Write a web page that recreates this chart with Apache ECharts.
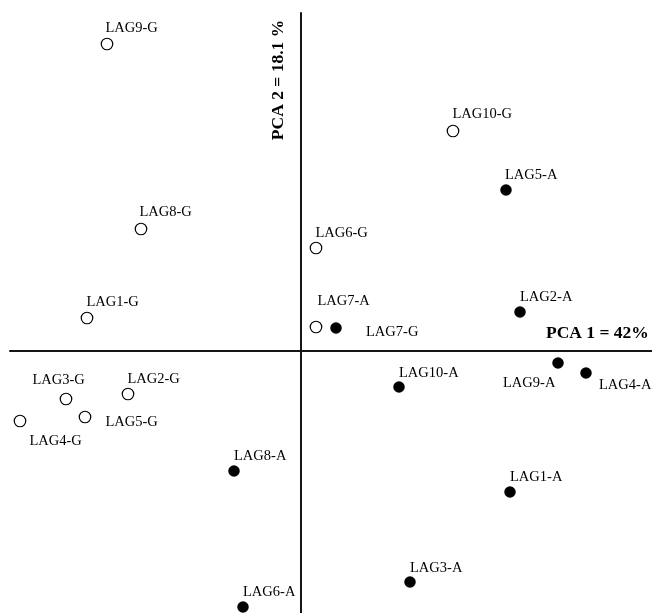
<!DOCTYPE html>
<html>
<head>
<meta charset="utf-8">
<script src="https://cdn.jsdelivr.net/npm/echarts@6/dist/echarts.min.js"></script>
<style>html,body{margin:0;padding:0;background:#fff}#c{width:652px;height:613px}</style>
</head>
<body>
<div id="c"></div>
<script>
// Open circles (G group) – labels as printed in the figure
const gLabels = ['LAG9-G','LAG8-G','LAG1-G','LAG6-G','LAG7-A','LAG10-G','LAG3-G','LAG2-G','LAG4-G','LAG5-G'];
const gX = [-3.88,-3.20,-4.28,0.30,0.30,3.04,-4.70,-3.46,-5.62,-4.32];
const gY = [6.14,2.44,0.66,2.06,0.48,4.40,-0.96,-0.86,-1.40,-1.32];
// Filled circles (A group)
const aLabels = ['LAG7-G','LAG5-A','LAG2-A','LAG8-A','LAG6-A','LAG10-A','LAG9-A','LAG4-A','LAG1-A','LAG3-A'];
const aX = [0.70,4.10,4.38,-1.34,-1.16,1.96,5.14,5.70,4.18,2.18];
const aY = [0.46,3.22,0.78,-2.40,-5.12,-0.72,-0.24,-0.44,-2.82,-4.62];
const xTitle = 'PCA 1 = 42%';
const yTitle = 'PCA 2 = 18.1 %';

// label offsets (pixels, from marker centre to label left/middle) — styling only
const gOff = [[-1,-15],[-1,-16],[0,-15],[0,-14],[2,-25],[0,-16],[-33,-18],[0,-14],[10,21],[21,6]];
const aOff = [[30,4],[-1,-15],[0,-15],[0,-15],[0,-15],[0,-14],[-55,20],[13,12],[0,-15],[0,-14]];

const SZ = 11.5;
function build(xs, ys, labels, offs){
  return xs.map((x,i)=>({
    value:[x, ys[i]],
    label:{show:true, formatter:labels[i], position:[SZ/2+offs[i][0], SZ/2+offs[i][1]], align:'left', verticalAlign:'middle'}
  }));
}
const font = '"Liberation Serif","Times New Roman",serif';
const chart = echarts.init(document.getElementById('c'), null, {renderer:'canvas'});
const axisCommon = {
  type:'value', axisLine:{onZero:true, lineStyle:{color:'#151515', width:2}},
  axisTick:{show:false}, axisLabel:{show:false}, splitLine:{show:false}
};
chart.setOption({
  animation:false,
  backgroundColor:'#fff',
  grid:{left:10, right:0, top:13, bottom:0, containLabel:false},
  xAxis:Object.assign({min:-5.82, max:7.02}, axisCommon),
  yAxis:Object.assign({min:-5.24, max:6.76}, axisCommon),
  series:[
    {type:'scatter', symbol:'circle', symbolSize:SZ, clip:false,
     itemStyle:{color:'#fff', borderColor:'#000', borderWidth:1.2, opacity:1},
     label:{color:'#000', fontFamily:font, fontSize:14.5},
     data:build(gX,gY,gLabels,gOff)},
    {type:'scatter', symbol:'circle', symbolSize:SZ, clip:false,
     itemStyle:{color:'#000', opacity:1},
     label:{color:'#000', fontFamily:font, fontSize:14.5},
     data:build(aX,aY,aLabels,aOff)}
  ],
  graphic:[
    {type:'text', x:546, y:333, style:{text:xTitle, font:'bold 17.5px '+font, fill:'#000', textAlign:'left', textVerticalAlign:'middle'}},
    {type:'text', x:278, y:80, rotation:Math.PI/2, style:{text:yTitle, font:'bold 17.5px '+font, fill:'#000', textAlign:'center', textVerticalAlign:'middle'}}
  ]
});
</script>
</body>
</html>
